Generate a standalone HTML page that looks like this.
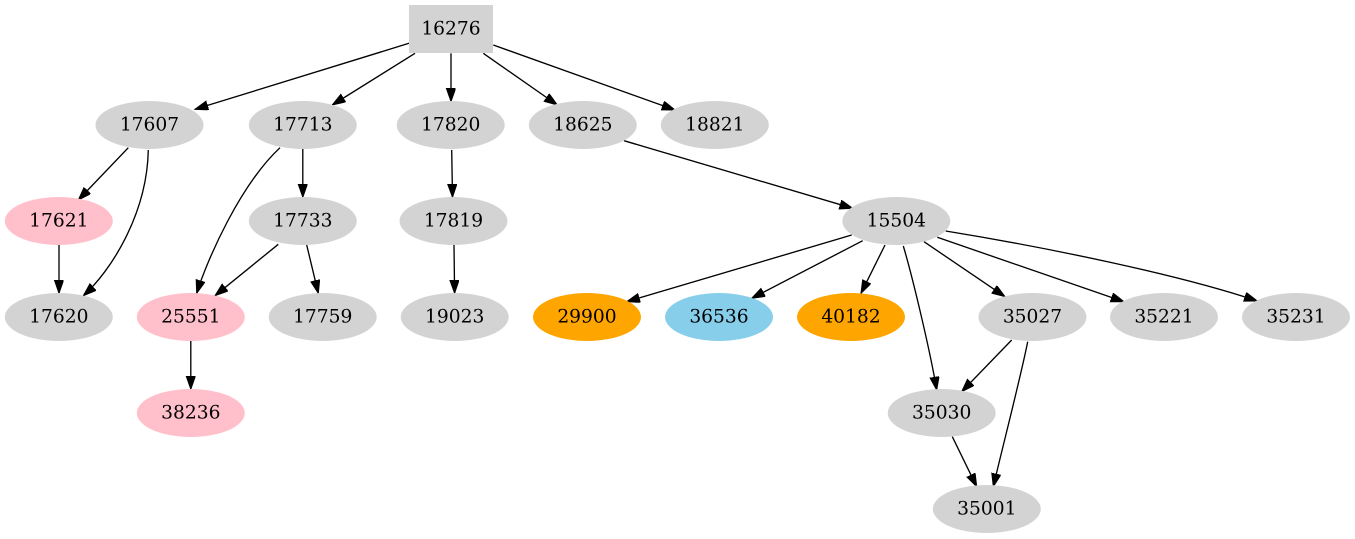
<!DOCTYPE html>
<html>
<head>
<meta charset="utf-8">
<style>
  html, body { margin: 0; padding: 0; background: #ffffff; }
  svg { display: block; }
  text { font-family: "DejaVu Serif", "Liberation Serif", serif; font-size: 18.67px; fill: #000; text-anchor: middle; }
  .e { fill: none; stroke: #000; stroke-width: 1.33; }
</style>
</head>
<body>
<svg width="1355" height="539" viewBox="0 0 1355 539" xmlns="http://www.w3.org/2000/svg">
  <defs>
    <marker id="a" markerUnits="userSpaceOnUse" markerWidth="16" markerHeight="12" refX="13.3" refY="4.67" orient="auto">
      <path d="M0,0 L13.3,4.67 L0,9.33 z" fill="#000" stroke="#000" stroke-width="1"/>
    </marker>
  </defs>

  <!-- edges -->
  <g class="edges">
    <path class="e" marker-end="url(#a)" d="M409,43.3 L195,109.3"/>
    <path class="e" marker-end="url(#a)" d="M415,53.3 L332.3,105"/>
    <path class="e" marker-end="url(#a)" d="M451,53.3 L451,101.5"/>
    <path class="e" marker-end="url(#a)" d="M483.3,53.3 L557.3,105"/>
    <path class="e" marker-end="url(#a)" d="M493.3,45 L675,110"/>

    <path class="e" marker-end="url(#a)" d="M128.3,147.7 L78.3,200"/>
    <path class="e" marker-end="url(#a)" d="M148.3,150 C147,215 110,272 83.3,295.7"/>
    <path class="e" marker-end="url(#a)" d="M59,245 L59,293.2"/>

    <path class="e" marker-end="url(#a)" d="M302.8,149 L302.8,197.2"/>
    <path class="e" marker-end="url(#a)" d="M280,147.7 C240,185 207,260 196.7,293.3"/>
    <path class="e" marker-end="url(#a)" d="M278.3,244.3 L215,295.7"/>
    <path class="e" marker-end="url(#a)" d="M306.7,245 L318.3,293.3"/>

    <path class="e" marker-end="url(#a)" d="M451.7,150 L452.5,197.2"/>
    <path class="e" marker-end="url(#a)" d="M454,245 L454.6,293.2"/>
    <path class="e" marker-end="url(#a)" d="M190.8,341 L190.8,389.2"/>

    <path class="e" marker-end="url(#a)" d="M624,140.7 L852.7,208.3"/>

    <path class="e" marker-end="url(#a)" d="M851.7,235 L626.7,301.7"/>
    <path class="e" marker-end="url(#a)" d="M862.7,240.7 L751.7,298.3"/>
    <path class="e" marker-end="url(#a)" d="M885,245 L861,293.3"/>
    <path class="e" marker-end="url(#a)" d="M903.3,246 C912,275 930,350 936.7,390"/>
    <path class="e" marker-end="url(#a)" d="M924,241.7 L1005,296.7"/>
    <path class="e" marker-end="url(#a)" d="M937.3,237.3 L1124,301.7"/>
    <path class="e" marker-end="url(#a)" d="M945.7,231 C1050,248 1180,275 1257.3,301"/>

    <path class="e" marker-end="url(#a)" d="M1011.7,340 L961.7,391.7"/>
    <path class="e" marker-end="url(#a)" d="M1027.7,341.7 C1020,380 1003,445 993.3,486.7"/>
    <path class="e" marker-end="url(#a)" d="M952.3,436.7 L976.7,486.7"/>
  </g>

  <!-- nodes -->
  <rect x="409" y="5" width="84" height="48" fill="#d3d3d3"/>
  <text x="451" y="34.7">16276</text>

  <ellipse cx="149.5" cy="125" rx="54" ry="24" fill="#d3d3d3"/><text x="149.5" y="130.7">17607</text>
  <ellipse cx="302.8" cy="125" rx="54" ry="24" fill="#d3d3d3"/><text x="302.8" y="130.7">17713</text>
  <ellipse cx="450.7" cy="125" rx="54" ry="24" fill="#d3d3d3"/><text x="450.7" y="130.7">17820</text>
  <ellipse cx="582.8" cy="125" rx="54" ry="24" fill="#d3d3d3"/><text x="582.8" y="130.7">18625</text>
  <ellipse cx="714.8" cy="125" rx="54" ry="24" fill="#d3d3d3"/><text x="714.8" y="130.7">18821</text>

  <ellipse cx="58.8" cy="221" rx="54" ry="24" fill="#ffc0cb"/><text x="58.8" y="226.7">17621</text>
  <ellipse cx="302.8" cy="221" rx="54" ry="24" fill="#d3d3d3"/><text x="302.8" y="226.7">17733</text>
  <ellipse cx="453.5" cy="221" rx="54" ry="24" fill="#d3d3d3"/><text x="453.5" y="226.7">17819</text>
  <ellipse cx="896.3" cy="221" rx="54" ry="24" fill="#d3d3d3"/><text x="896.3" y="226.7">15504</text>

  <ellipse cx="58.8" cy="317" rx="54" ry="24" fill="#d3d3d3"/><text x="58.8" y="322.7">17620</text>
  <ellipse cx="190.8" cy="317" rx="54" ry="24" fill="#ffc0cb"/><text x="190.8" y="322.7">25551</text>
  <ellipse cx="322.7" cy="317" rx="54" ry="24" fill="#d3d3d3"/><text x="322.7" y="322.7">17759</text>
  <ellipse cx="454.7" cy="317" rx="54" ry="24" fill="#d3d3d3"/><text x="454.7" y="322.7">19023</text>
  <ellipse cx="587" cy="317" rx="54" ry="24" fill="#ffa500"/><text x="587" y="322.7">29900</text>
  <ellipse cx="719" cy="317" rx="54" ry="24" fill="#87ceeb"/><text x="719" y="322.7">36536</text>
  <ellipse cx="851" cy="317" rx="54" ry="24" fill="#ffa500"/><text x="851" y="322.7">40182</text>
  <ellipse cx="1032.5" cy="317" rx="54" ry="24" fill="#d3d3d3"/><text x="1032.5" y="322.7">35027</text>
  <ellipse cx="1164" cy="317" rx="54" ry="24" fill="#d3d3d3"/><text x="1164" y="322.7">35221</text>
  <ellipse cx="1296" cy="317" rx="54" ry="24" fill="#d3d3d3"/><text x="1296" y="322.7">35231</text>

  <ellipse cx="190.8" cy="413" rx="54" ry="24" fill="#ffc0cb"/><text x="190.8" y="418.7">38236</text>
  <ellipse cx="941.7" cy="413" rx="54" ry="24" fill="#d3d3d3"/><text x="941.7" y="418.7">35030</text>

  <ellipse cx="986.8" cy="509" rx="54" ry="24" fill="#d3d3d3"/><text x="986.8" y="514.7">35001</text>
</svg>
</body>
</html>
